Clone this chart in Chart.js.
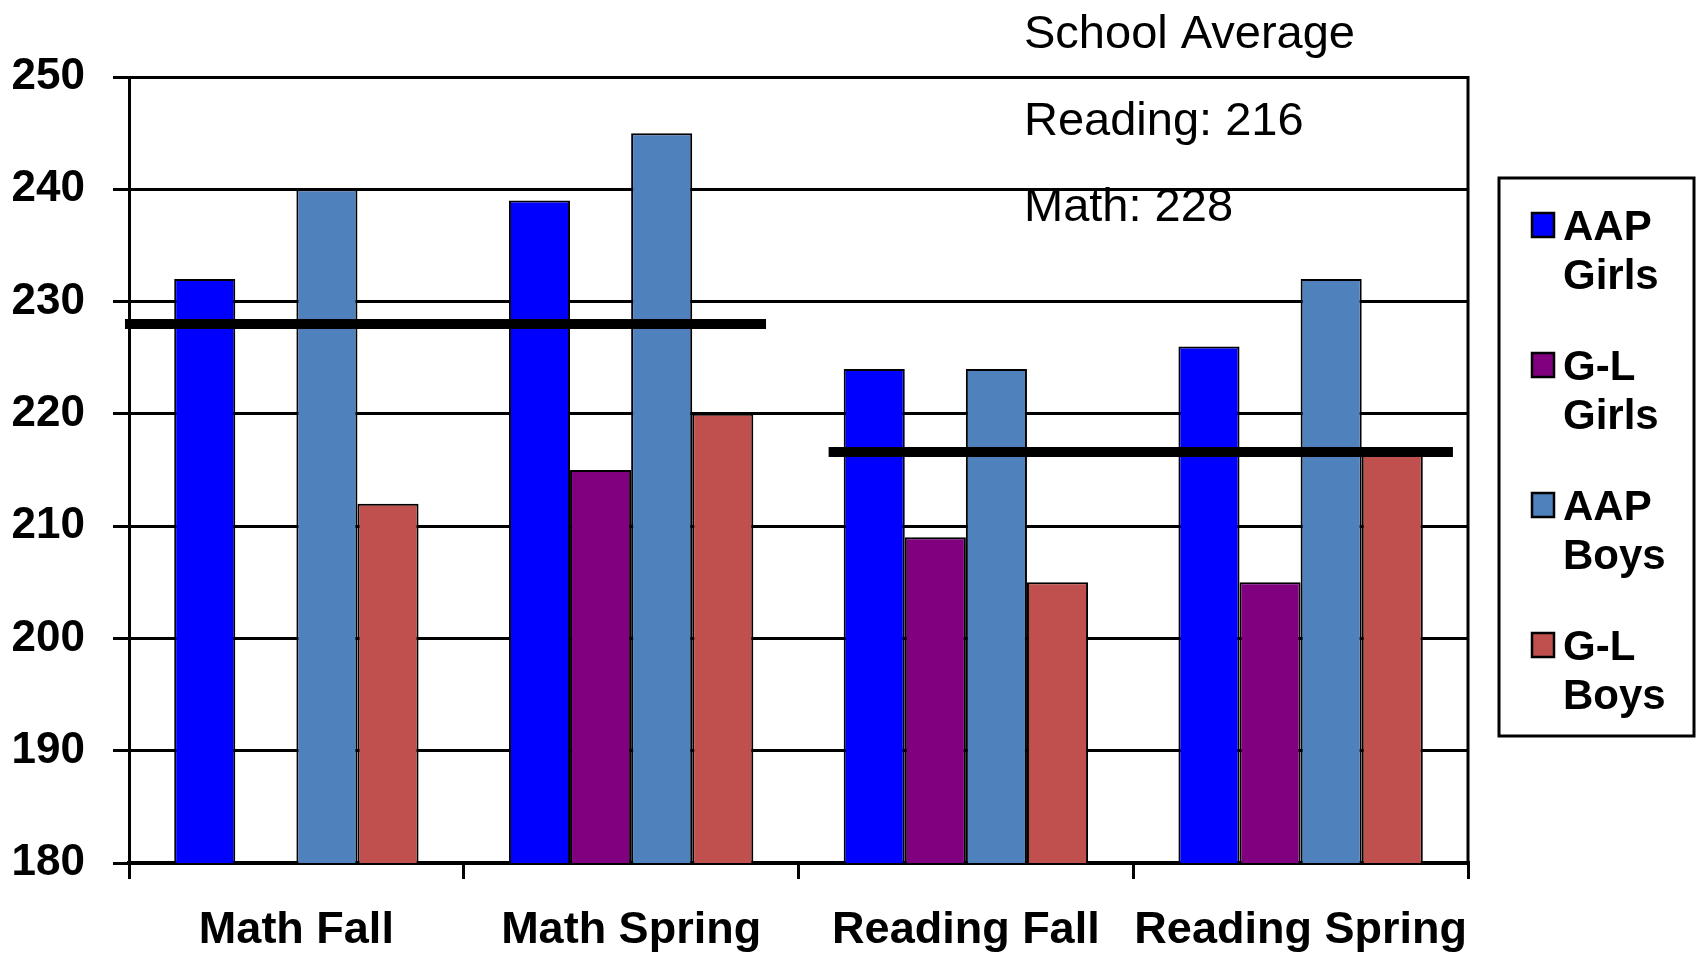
<!DOCTYPE html>
<html>
<head>
<meta charset="utf-8">
<title>AAP vs G-L scores</title>
<script src="https://cdn.jsdelivr.net/npm/chart.js@4/dist/chart.umd.min.js"></script>
<style>
  html, body { margin: 0; padding: 0; background: #fff; }
  canvas { display: block; }
</style>
</head>
<body>
<canvas id="chart" width="1699" height="956"></canvas>
<script>
const categories = ['Math Fall', 'Math Spring', 'Reading Fall', 'Reading Spring']
const aapGirls = [232, 239, 224, 226]
const glGirls = [null, 215, 209, 205]
const aapBoys = [240, 245, 224, 232]
const glBoys = [212, 220, 205, 217]
const seriesNames = ['AAP Girls', 'G-L Girls', 'AAP Boys', 'G-L Boys']
const yTicks = [180, 190, 200, 210, 220, 230, 240, 250]

// school averages: the numbers in the note and where the black bars sit
const avgMath = 228
const avgReading = 216
const mathLineLevel = 228
const readingLineLevel = 216.6
const noteLines = ['School Average', 'Reading: ' + avgReading, 'Math: ' + avgMath]

// span of each average bar, in category units (0 = left axis, 4 = right edge)
const mathLineSpan = [-0.012, 1.903]
const readingLineSpan = [2.09, 3.955]

const FONT = "'Liberation Sans', Arial, sans-serif"
const colors = ['#0000FF', '#800080', '#4F81BD', '#C0504D']

let seriesData = [aapGirls, glGirls, aapBoys, glBoys]

let datasets = seriesData.map((values, i) => ({
    label: seriesNames[i],
    data: values,
    backgroundColor: colors[i],
    borderColor: '#000',
    borderWidth: 2,
    barPercentage: 1,
    categoryPercentage: 0.73
}))

function drawAvgLine(chart, level, span) {
    const { ctx, scales } = chart
    const y = scales.y.getPixelForValue(level)
    ctx.beginPath()
    ctx.moveTo(scales.xLine.getPixelForValue(span[0]), y)
    ctx.lineTo(scales.xLine.getPixelForValue(span[1]), y)
    ctx.stroke()
}

const extras = {
    id: 'extras',
    beforeDatasetsDraw(chart) {
        const { ctx, chartArea } = chart
        ctx.save()
        ctx.strokeStyle = '#000'
        ctx.lineWidth = 3
        ctx.beginPath()
        ctx.moveTo(chartArea.right, chartArea.top - 1)
        ctx.lineTo(chartArea.right, chartArea.bottom)
        ctx.stroke()
        ctx.restore()
    },
    afterDatasetsDraw(chart) {
        const { ctx } = chart
        ctx.save()
        ctx.strokeStyle = '#000'
        ctx.lineWidth = 10
        ctx.lineCap = 'butt'
        drawAvgLine(chart, mathLineLevel, mathLineSpan)
        drawAvgLine(chart, readingLineLevel, readingLineSpan)
        ctx.restore()
    },
    afterDraw(chart) {
        const { ctx, chartArea } = chart
        ctx.save()

        // note at the top
        ctx.fillStyle = '#000'
        ctx.font = '47px ' + FONT
        ctx.textAlign = 'left'
        ctx.textBaseline = 'alphabetic'
        noteLines.forEach((t, i) => {
            ctx.fillText(t, 1024, 48 + i * 86.5)
        })

        // legend box
        const left = chartArea.right + 31
        const top = 178
        ctx.lineWidth = 3
        ctx.strokeStyle = '#000'
        ctx.fillStyle = '#fff'
        ctx.fillRect(left, top, 195, 558)
        ctx.strokeRect(left, top, 195, 558)

        ctx.font = 'bold 42px ' + FONT
        seriesNames.forEach((name, i) => {
            const base = top + 62 + i * 140
            ctx.fillStyle = colors[i]
            ctx.fillRect(left + 33, base - 27, 22, 24)
            ctx.lineWidth = 2.5
            ctx.strokeRect(left + 33, base - 27, 22, 24)
            ctx.fillStyle = '#000'
            const parts = name.split(' ')
            ctx.fillText(parts[0], left + 64, base)
            ctx.fillText(parts[1], left + 64, base + 49)
        })
        ctx.restore()
    }
}

new Chart(document.getElementById('chart'), {
    type: 'bar',
    data: {
        labels: categories,
        datasets: datasets
    },
    options: {
        responsive: false,
        devicePixelRatio: 1,
        animation: false,
        layout: {
            padding: { top: 77, right: 231, bottom: 0, left: 0 }
        },
        plugins: {
            legend: { display: false },
            tooltip: { enabled: false }
        },
        scales: {
            x: {
                type: 'category',
                offset: true,
                afterFit: (scale) => { scale.height = 93 },
                grid: {
                    offset: true,
                    drawOnChartArea: false,
                    drawTicks: true,
                    tickLength: 16,
                    color: '#000',
                    lineWidth: 3
                },
                border: { display: true, color: '#000', width: 4 },
                ticks: {
                    autoSkip: false,
                    maxRotation: 0,
                    padding: 25,
                    color: '#000',
                    font: { family: FONT, size: 45, weight: 'bold' }
                }
            },
            xLine: {
                type: 'linear',
                axis: 'x',
                position: 'bottom',
                display: false,
                offset: false,
                min: 0,
                max: categories.length
            },
            y: {
                min: yTicks[0],
                max: yTicks[yTicks.length - 1],
                afterFit: (scale) => { scale.width = 129 },
                afterBuildTicks: (scale) => {
                    scale.ticks = yTicks.map(v => ({ value: v }))
                },
                grid: {
                    color: '#000',
                    lineWidth: 3,
                    tickLength: 16
                },
                border: { display: true, color: '#000', width: 3 },
                ticks: {
                    padding: 28,
                    color: '#000',
                    font: { family: FONT, size: 44, weight: 'bold' }
                }
            }
        }
    },
    plugins: [extras]
})
</script>
</body>
</html>
